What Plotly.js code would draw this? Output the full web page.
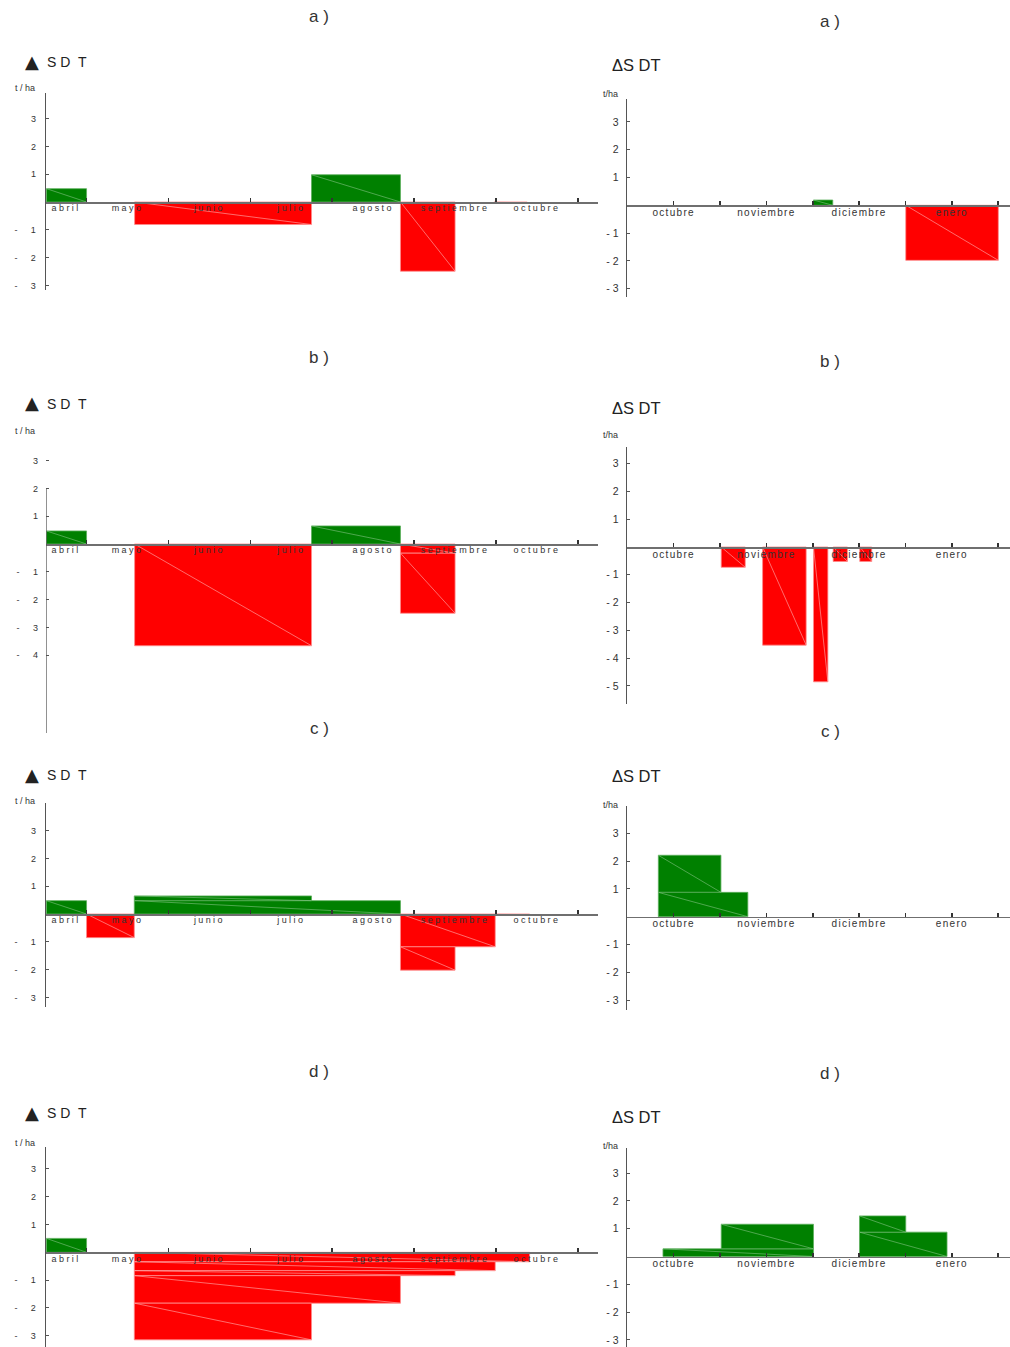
<!DOCTYPE html>
<html><head><meta charset="utf-8">
<script src="https://cdn.plot.ly/plotly-3.0.1.min.js"></script>
<style>
html,body{margin:0;padding:0;background:#fff}
#chart{width:1010px;height:1347px}
.xtick text,.x3tick text,.x5tick text,.x7tick text{letter-spacing:2.4px}
.x2tick text,.x4tick text,.x6tick text,.x8tick text{letter-spacing:1.3px}
</style>
</head><body><div id="chart"></div>
<script>
// ---------- tick labels ----------
const leftMonths = ['abril','mayo','junio','julio','agosto','septiembre','octubre'];
const leftLabelPos = [0.75,1.5,2.5,3.5,4.5,5.5,6.5];
const leftBounds = [1,2,3,4,5,6,7];
const rightMonths = ['octubre','noviembre','diciembre','enero'];
const rightLabelPos = [1,2,3,4];
const rightBounds = [1.5,2.5,3.5,4.5];
const panelLetters = ['a )','b )','c )','d )'];

// ---------- data: each rectangle = [start, end] in months, from -> to in t/ha ----------
// Left a)
const aL_start = [0.51, 1.587, 3.747, 4.833, 5.977];
const aL_end   = [1.00, 3.747, 4.833, 5.500, 6.380];
const aL_from  = [0, 0, 0, 0, 0];
const aL_to    = [0.48, -0.81, 0.98, -2.49, -0.04];
// Left b)
const bL_start = [0.51, 1.587, 3.747, 4.833, 4.833];
const bL_end   = [1.00, 3.747, 4.833, 5.500, 5.500];
const bL_from  = [0, 0, 0, 0, -0.33];
const bL_to    = [0.47, -3.66, 0.65, -0.33, -2.49];
// Left c)
const cL_start = [0.51, 1.00, 1.583, 1.583, 4.833, 4.833, 6.00];
const cL_end   = [1.00, 1.583, 4.833, 3.747, 5.99, 5.50, 6.41];
const cL_from  = [0, 0, 0, 0.48, 0, -1.18, 0];
const cL_to    = [0.48, -0.85, 0.48, 0.65, -1.18, -2.02, -0.03];
// Left d)
const dL_start = [0.51, 1.583, 1.583, 1.583, 1.583, 1.583];
const dL_end   = [1.00, 6.41, 5.99, 5.50, 4.833, 3.747];
const dL_from  = [0, 0, -0.34, -0.66, -0.84, -1.83];
const dL_to    = [0.50, -0.34, -0.66, -0.84, -1.83, -3.15];
// Right a)
const aR_start = [2.508, 3.503];
const aR_end   = [2.716, 4.501];
const aR_from  = [0, 0];
const aR_to    = [0.19, -1.98];
// Right b)
const bR_start = [1.513, 1.959, 2.508, 2.720, 3.007];
const bR_end   = [1.772, 2.429, 2.663, 2.874, 3.136];
const bR_from  = [0, 0, 0, 0, 0];
const bR_to    = [-0.73, -3.53, -4.85, -0.52, -0.52];
// Right c)
const cR_start = [0.835, 0.835];
const cR_end   = [1.51, 1.80];
const cR_from  = [0.876, 0];
const cR_to    = [2.21, 0.876];
// Right d)
const dR_start = [0.885, 1.513, 3.004, 3.004];
const dR_end   = [2.508, 2.508, 3.948, 3.503];
const dR_from  = [0, 0.276, 0, 0.876];
const dR_to    = [0.276, 1.16, 0.876, 1.46];

// ---------- layout geometry (pixels) ----------
const W = 1010, H = 1347, UNIT = 27.8;
const LEFT = {x0: 46, x1: 598, range: [0.505, 7.245]};
const RIGHT = {x0: 627, x1: 1010, range: [0.497, 4.627]};

const panels = [
  {side:'L', row:0, zero:202,    yr:[-3.17,3.93], yt:[-3,-2,-1,1,2,3], s:aL_start, e:aL_end, f:aL_from, t:aL_to},
  {side:'R', row:0, zero:205.3,  yr:[-3.31,3.83], yt:[-3,-2,-1,1,2,3], s:aR_start, e:aR_end, f:aR_from, t:aR_to},
  {side:'L', row:1, zero:544,    yr:[-6.8,3.3],   yt:[-4,-3,-2,-1,1,2,3], lineTop:2.0, s:bL_start, e:bL_end, f:bL_from, t:bL_to},
  {side:'R', row:1, zero:547,    yr:[-5.66,3.59], yt:[-5,-4,-3,-2,-1,1,2,3], s:bR_start, e:bR_end, f:bR_from, t:bR_to},
  {side:'L', row:2, zero:914,    yr:[-3.33,3.98], yt:[-3,-2,-1,1,2,3], s:cL_start, e:cL_end, f:cL_from, t:cL_to},
  {side:'R', row:2, zero:916.7,  yr:[-3.35,3.99], yt:[-3,-2,-1,1,2,3], s:cR_start, e:cR_end, f:cR_from, t:cR_to},
  {side:'L', row:3, zero:1252.3, yr:[-3.40,3.80], yt:[-3,-2,-1,1,2,3], s:dL_start, e:dL_end, f:dL_from, t:dL_to},
  {side:'R', row:3, zero:1256.5, yr:[-3.24,3.90], yt:[-3,-2,-1,1,2,3], s:dR_start, e:dR_end, f:dR_from, t:dR_to}
];

const GREEN = '#008000', RED = '#ff0000';
const FONT = 'Arial, "Liberation Sans", sans-serif';
const traces = [];
const layout = {
  width: W, height: H, margin: {l:0, r:0, t:0, b:0},
  paper_bgcolor: '#fff', plot_bgcolor: 'rgba(0,0,0,0)',
  showlegend: false, barmode: 'overlay', bargap: 0,
  font: {family: FONT, color: '#333'},
  annotations: [], shapes: []
};

panels.forEach((p, i) => {
  const n = i + 1;
  const xa = 'x' + n, ya = 'y' + n;
  const geo = p.side === 'L' ? LEFT : RIGHT;
  const topPx = p.zero - p.yr[1] * UNIT;
  const botPx = Math.min(H, p.zero - p.yr[0] * UNIT);
  const yDom = [(H - botPx) / H, (H - topPx) / H];
  const zeroFrac = yDom[0] + (0 - p.yr[0]) / (p.yr[1] - p.yr[0]) * (yDom[1] - yDom[0]);

  // bars
  const centers = p.s.map((v, k) => (v + p.e[k]) / 2);
  const widths = p.s.map((v, k) => p.e[k] - v);
  const heights = p.t.map((v, k) => v - p.f[k]);
  const cols = p.t.map((v, k) => (v + p.f[k]) / 2 >= 0 ? GREEN : RED);
  const lcols = cols.map(c => c === GREEN ? '#5cae5c' : '#ff8a8a');
  traces.push({
    type: 'bar', xaxis: xa, yaxis: ya, x: centers, y: heights, base: p.f, width: widths,
    marker: {color: cols, line: {color: lcols, width: 0.8}}, hoverinfo: 'skip'
  });
  // thin diagonal rendering lines inside each rectangle
  ['G','R'].forEach(cc => {
    const dx = [], dy = [];
    p.s.forEach((v, k) => {
      const isG = cols[k] === GREEN;
      if ((cc === 'G') !== isG) return;
      dx.push(v, p.e[k], null);
      dy.push(Math.max(p.f[k], p.t[k]), Math.min(p.f[k], p.t[k]), null);
    });
    if (dx.length) traces.push({
      type: 'scatter', mode: 'lines', xaxis: xa, yaxis: ya, x: dx, y: dy,
      line: {color: cc === 'G' ? 'rgba(140,200,140,0.8)' : 'rgba(255,170,170,0.9)', width: 0.7},
      hoverinfo: 'skip'
    });
  });

  const isL = p.side === 'L';
  layout['xaxis' + n] = {
    domain: [geo.x0 / W, geo.x1 / W], range: geo.range, anchor: 'free', position: zeroFrac,
    showline: true, linecolor: '#6f6f6f', linewidth: 1.6, zeroline: false, showgrid: false,
    tickmode: 'array',
    tickvals: isL ? leftLabelPos : rightLabelPos,
    ticktext: isL ? leftMonths : rightMonths,
    ticks: 'inside', ticklen: isL ? 0 : 4, tickwidth: 1.6, tickcolor: '#333',
    minor: {tickmode: 'array', tickvals: isL ? leftBounds : rightBounds, ticks: 'inside', ticklen: 4, tickwidth: 1.6, tickcolor: '#333', showgrid: false},
    tickfont: {size: isL ? 9 : 10, color: '#333', family: FONT},
    ticklabelstandoff: -3,
    fixedrange: true
  };
  const neg = isL ? '-\u2003\u2002' : '-\u00a0';
  layout['yaxis' + n] = {
    domain: yDom, range: p.yr, anchor: xa,
    showline: p.lineTop === undefined, linecolor: '#555', linewidth: 1.3,
    zeroline: false, showgrid: false,
    tickmode: 'array', tickvals: p.yt, ticktext: p.yt.map(v => v < 0 ? neg + Math.abs(v) : String(v)),
    ticks: 'inside', ticklen: 3, tickwidth: 1, tickcolor: '#555',
    tickfont: {size: isL ? 9 : 10.5, color: '#333', family: FONT},
    ticklabelstandoff: isL ? 7 : 5,
    fixedrange: true
  };
  if (p.lineTop !== undefined) {
    layout.shapes.push({type: 'line', xref: xa, yref: ya, x0: geo.range[0], x1: geo.range[0],
      y0: p.lineTop, y1: p.yr[0], line: {color: '#555', width: 1.3}});
  }
});

// panel letters, titles and units
const letterY = [[16, 22], [358, 362], [728, 731], [1071, 1073]];
const titleY  = [[62, 65], [404, 408], [775, 776], [1113, 1117]];
const unitY   = [[88, 94], [431, 435], [801, 805], [1143, 1146]];
panelLetters.forEach((L, r) => {
  layout.annotations.push(
    {xref:'paper', yref:'paper', x: 319 / W, y: 1 - letterY[r][0] / H, text: L, showarrow:false,
     xanchor:'center', yanchor:'middle', font:{size:17, color:'#333', family: FONT}},
    {xref:'paper', yref:'paper', x: 830 / W, y: 1 - letterY[r][1] / H, text: L, showarrow:false,
     xanchor:'center', yanchor:'middle', font:{size:17, color:'#333', family: FONT}},
    {xref:'paper', yref:'paper', x: 32 / W, y: 1 - (titleY[r][0] - 1) / H, text: '▲', showarrow:false,
     xanchor:'center', yanchor:'middle', font:{size:18, color:'#222', family: '"DejaVu Sans", sans-serif'}},
    {xref:'paper', yref:'paper', x: 45 / W, y: 1 - titleY[r][0] / H, text: 'S\u00a0D\u00a0\u00a0T', showarrow:false,
     xanchor:'left', yanchor:'middle', font:{size:14, color:'#222', family: FONT}},
    {xref:'paper', yref:'paper', x: 610 / W, y: 1 - titleY[r][1] / H, text: 'ΔS DT', showarrow:false,
     xanchor:'left', yanchor:'middle', font:{size:16.5, color:'#222', family: FONT}},
    {xref:'paper', yref:'paper', x: 25 / W, y: 1 - unitY[r][0] / H, text: 't / ha', showarrow:false,
     xanchor:'center', yanchor:'middle', font:{size:9, color:'#333', family: FONT}},
    {xref:'paper', yref:'paper', x: 610 / W, y: 1 - unitY[r][1] / H, text: 't/ha', showarrow:false,
     xanchor:'center', yanchor:'middle', font:{size:9, color:'#333', family: FONT}}
  );
});

Plotly.newPlot('chart', traces, layout, {displayModeBar: false, staticPlot: true});
</script>
</body></html>
